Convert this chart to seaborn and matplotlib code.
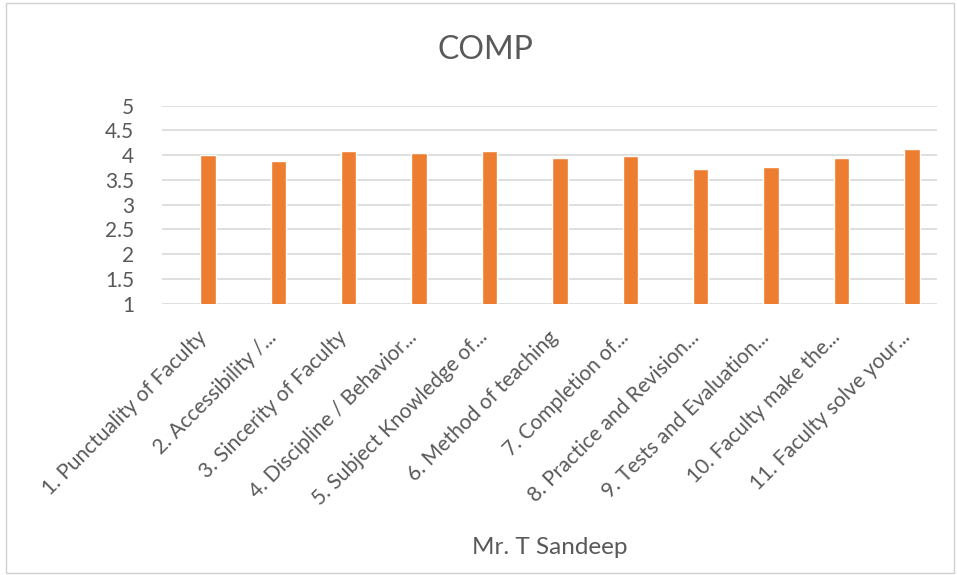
import matplotlib
matplotlib.use("Agg")
import matplotlib.pyplot as plt
import matplotlib.transforms as mtransforms
import seaborn as sns
import pandas as pd
from matplotlib.patches import Rectangle

# Data
categories = [
    "1. Punctuality of Faculty",
    "2. Accessibility /...",
    "3. Sincerity of Faculty",
    "4. Discipline / Behavior...",
    "5. Subject Knowledge of...",
    "6. Method of teaching",
    "7. Completion of...",
    "8. Practice and Revision...",
    "9. Tests and Evaluation...",
    "10. Faculty make the...",
    "11. Faculty solve your...",
]
scores = [4.00, 3.87, 4.09, 4.05, 4.09, 3.94, 3.98, 3.72, 3.76, 3.94, 4.13]
y_ticks = [1, 1.5, 2, 2.5, 3, 3.5, 4, 4.5, 5]
y_tick_labels = ["1", "1.5", "2", "2.5", "3", "3.5", "4", "4.5", "5"]

df = pd.DataFrame({"item": categories, "score": scores})

sns.set_theme(style="white")
plt.rcParams["font.family"] = ["Lato", "DejaVu Sans"]

text_gray = "#595959"
grid_gray = "#d9d9d9"
bar_color = "#ed7d31"

fig = plt.figure(figsize=(9.57, 5.75), dpi=100)
ax = fig.add_axes([162 / 957, 1 - 303.5 / 575, 775 / 957, 198 / 575])

sns.barplot(data=df, x="item", y="score", color=bar_color, width=0.22,
            saturation=1, ax=ax, bottom=0)

ax.set_ylim(1, 5)
ax.set_xlim(-0.653, 10.358)
ax.set_yticks(y_ticks)
ax.set_yticklabels(y_tick_labels, color=text_gray, fontsize=15)
ax.yaxis.grid(True, color=grid_gray, linewidth=1.2)
ax.set_axisbelow(True)
for s in ax.spines.values():
    s.set_visible(False)
ax.tick_params(axis="y", length=0, pad=20)

ax.set_xticks(range(len(categories)))
ax.set_xticklabels(categories, rotation=45, ha="right", rotation_mode="anchor",
                   color=text_gray, fontsize=15)
ax.tick_params(axis="x", length=0, pad=14)
# nudge the slanted labels a little left, like the original
shift = mtransforms.ScaledTranslation(-12 / 100, -4 / 100, fig.dpi_scale_trans)
for lbl in ax.get_xticklabels():
    lbl.set_transform(lbl.get_transform() + shift)

ax.set_ylabel("")
ax.set_xlabel("Mr. T Sandeep", color=text_gray, fontsize=17.5)
ax.xaxis.set_label_coords((550 - 162) / 775, -(537 - 303.5) / 198)

fig.text(485 / 957, 1 - 50 / 575, "COMP", ha="center", va="center",
         color=text_gray, fontsize=23)

# chart area outline
fig.patches.append(Rectangle((6 / 957, 2 / 575), 948 / 957, 570 / 575,
                             transform=fig.transFigure, fill=False,
                             edgecolor="#d0d0d0", linewidth=1))

fig.savefig("out.png", dpi=100)
